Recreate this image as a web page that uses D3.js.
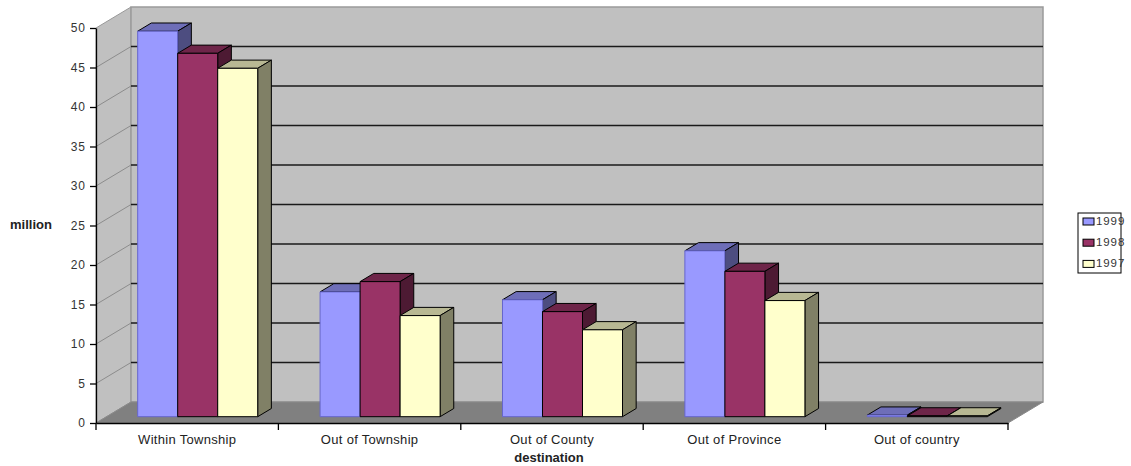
<!DOCTYPE html>
<html>
<head>
<meta charset="utf-8">
<script src="https://cdn.jsdelivr.net/npm/d3@7"></script>
<style>
  html, body { margin: 0; padding: 0; background: #fff; }
  svg { display: block; font-family: "Liberation Sans", Arial, sans-serif; }
</style>
</head>
<body>
<svg id="chart" width="1131" height="466"></svg>
<script>
// Passengers by destination, three years (million)
const categories = ["Within Township", "Out of Township", "Out of County", "Out of Province", "Out of country"];
const seriesNames = ["1999", "1998", "1997"];
const values1999 = [48.8, 15.8, 14.8, 21.0, 0.2];
const values1998 = [46.0, 17.1, 13.3, 18.4, 0.1];
const values1997 = [44.1, 12.8, 11.0, 14.7, 0.1];
const yTicks = [0, 5, 10, 15, 20, 25, 30, 35, 40, 45, 50];
const yLabel = "million";
const xLabel = "destination";

const seriesValues = [values1999, values1998, values1997];
const frontColors = ["#9999ff", "#993366", "#ffffcc"];
const edgeColors = ["#6666cc", "#000", "#000"];

const svg = d3.select("#chart");

// front plane of the plot box and the oblique depth offset
const plotLeft = 96, plotRight = 1008, plotBottom = 423, plotTop = 28;
const DX = 35, DY = 21;
const barZ0 = 0.3, barZ1 = 0.69;

const y = d3.scaleLinear().domain([0, 50]).range([plotBottom, plotTop]);
const x0 = d3.scaleBand().domain(categories).range([plotLeft, plotRight])
  .paddingInner(0.342).paddingOuter(0.171);
const x1 = d3.scaleBand().domain(seriesNames).range([0, x0.bandwidth()]);

const proj = (px, v, z) => [px + z * DX, y(v) - z * DY];
const poly = pts => "M" + pts.map(p => p.join(",")).join("L") + "Z";

// walls and floor
const walls = svg.append("g");
walls.append("path")
  .attr("d", poly([proj(plotLeft, 0, 0), proj(plotLeft, 50, 0), proj(plotLeft, 50, 1), proj(plotLeft, 0, 1)]))
  .attr("fill", "#c0c0c0").attr("stroke", "#999").attr("stroke-width", 1);
walls.append("path")
  .attr("d", poly([proj(plotLeft, 0, 1), proj(plotLeft, 50, 1), proj(plotRight, 50, 1), proj(plotRight, 0, 1)]))
  .attr("fill", "#c0c0c0").attr("stroke", "#9a9a9a").attr("stroke-width", 1.5);
walls.append("path")
  .attr("d", poly([proj(plotLeft, 0, 0), proj(plotRight, 0, 0), proj(plotRight, 0, 1), proj(plotLeft, 0, 1)]))
  .attr("fill", "#808080").attr("stroke", "#8a8a8a").attr("stroke-width", 1);

// gridlines: diagonal on the side wall, horizontal on the back wall
const grid = yTicks.filter(v => v > 0 && v < 50);
walls.selectAll("line.side").data(grid).join("line").attr("class", "side")
  .attr("x1", v => proj(plotLeft, v, 0)[0]).attr("y1", v => proj(plotLeft, v, 0)[1])
  .attr("x2", v => proj(plotLeft, v, 1)[0]).attr("y2", v => proj(plotLeft, v, 1)[1])
  .attr("stroke", "#8c8c8c").attr("stroke-width", 1);
walls.selectAll("line.back").data(grid).join("line").attr("class", "back")
  .attr("x1", v => proj(plotLeft, v, 1)[0]).attr("y1", v => proj(plotLeft, v, 1)[1])
  .attr("x2", v => proj(plotRight, v, 1)[0]).attr("y2", v => proj(plotRight, v, 1)[1])
  .attr("stroke", "#1a1a1a").attr("stroke-width", 1.3);

// bars: top face, right side face and front face
const shade = (c, k) => { const h = d3.rgb(c); return d3.rgb(h.r * k, h.g * k, h.b * k).toString(); };
const bars = [];
categories.forEach((cat, ci) => {
  seriesNames.forEach((s, si) => {
    bars.push({ cat, s, si, v: seriesValues[si][ci] });
  });
});
const barG = svg.append("g").selectAll("g").data(bars).join("g");
barG.each(function(d) {
  const g = d3.select(this);
  const xa = x0(d.cat) + x1(d.s), xb = xa + x1.bandwidth();
  const c = frontColors[d.si];
  g.append("path")
    .attr("d", poly([proj(xa, d.v, barZ0), proj(xb, d.v, barZ0), proj(xb, d.v, barZ1), proj(xa, d.v, barZ1)]))
    .attr("fill", shade(c, 0.72)).attr("stroke", "#000").attr("stroke-width", 1);
  g.append("path")
    .attr("d", poly([proj(xb, 0, barZ0), proj(xb, d.v, barZ0), proj(xb, d.v, barZ1), proj(xb, 0, barZ1)]))
    .attr("fill", shade(c, 0.5)).attr("stroke", "#000").attr("stroke-width", 1);
  g.append("path")
    .attr("d", poly([proj(xa, 0, barZ0), proj(xa, d.v, barZ0), proj(xb, d.v, barZ0), proj(xb, 0, barZ0)]))
    .attr("fill", c).attr("stroke", edgeColors[d.si]).attr("stroke-width", 1);
});

// value axis
const yAxis = svg.append("g").attr("transform", `translate(${plotLeft},0)`)
  .call(d3.axisLeft(y).tickValues(yTicks).tickSize(6).tickSizeOuter(0).tickPadding(4));
yAxis.select(".domain").attr("stroke", "#000").attr("stroke-width", 1.3);
yAxis.selectAll(".tick line").attr("stroke", "#000").attr("stroke-width", 1.3);
yAxis.selectAll(".tick text").attr("font-size", 12).attr("letter-spacing", 1)
  .attr("fill", "#333").attr("font-family", "Liberation Sans, Arial, sans-serif");

// category axis: labels centered, ticks at category boundaries
const xAxis = svg.append("g").attr("transform", `translate(0,${plotBottom})`)
  .call(d3.axisBottom(x0).tickSize(0).tickSizeOuter(0).tickPadding(12));
xAxis.select(".domain").attr("stroke", "#000").attr("stroke-width", 1.3);
xAxis.selectAll(".tick text").attr("font-size", 13).attr("letter-spacing", 0.3).attr("fill", "#222")
  .attr("font-family", "Liberation Sans, Arial, sans-serif");
const bounds = d3.range(categories.length + 1).map(i => plotLeft + i * x0.step());
xAxis.selectAll("line.bound").data(bounds).join("line").attr("class", "bound")
  .attr("x1", d => d).attr("x2", d => d).attr("y1", 0).attr("y2", 7)
  .attr("stroke", "#000").attr("stroke-width", 1.3);

// axis titles
svg.append("text").attr("x", 10).attr("y", 229).text(yLabel)
  .attr("font-size", 13).attr("font-weight", "bold").attr("fill", "#222");
svg.append("text").attr("x", (plotLeft + plotRight) / 2 - 3).attr("y", 462).attr("text-anchor", "middle")
  .text(xLabel).attr("font-size", 13).attr("font-weight", "bold").attr("fill", "#222");

// legend
const lg = svg.append("g").attr("transform", "translate(1078,213)");
lg.append("rect").attr("width", 43).attr("height", 60)
  .attr("fill", "#fff").attr("stroke", "#000").attr("stroke-width", 1);
const items = lg.selectAll("g").data(seriesNames).join("g")
  .attr("transform", (d, i) => `translate(5,${12 + i * 21.2})`);
items.append("rect").attr("y", -7).attr("width", 11).attr("height", 7)
  .attr("fill", (d, i) => frontColors[i]).attr("stroke", "#000").attr("stroke-width", 1);
items.append("text").attr("x", 13).attr("y", 0).text(d => d)
  .attr("font-size", 11.5).attr("letter-spacing", 0.9).attr("fill", "#333");
</script>
</body>
</html>
